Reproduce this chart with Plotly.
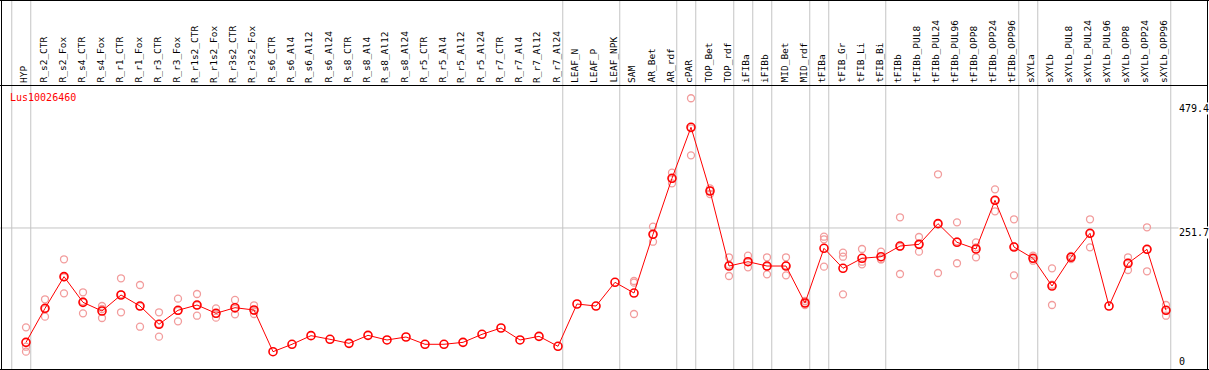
import plotly.graph_objects as go

categories = ["HYP", "R_s2_CTR", "R_s2_Fox", "R_s4_CTR", "R_s4_Fox", "R_r1_CTR", "R_r1_Fox",
              "R_r3_CTR", "R_r3_Fox", "R_r1s2_CTR", "R_r1s2_Fox", "R_r3s2_CTR", "R_r3s2_Fox",
              "R_s6_CTR", "R_s6_Al4", "R_s6_Al12", "R_s6_Al24", "R_s8_CTR", "R_s8_Al4", "R_s8_Al12",
              "R_s8_Al24", "R_r5_CTR", "R_r5_Al4", "R_r5_Al12", "R_r5_Al24", "R_r7_CTR", "R_r7_Al4",
              "R_r7_Al12", "R_r7_Al24", "LEAF_N", "LEAF_P", "LEAF_NPK", "SAM", "AR_Bet", "AR_rdf",
              "cPAR", "TOP_Bet", "TOP_rdf", "iFIBa", "iFIBb", "MID_Bet", "MID_rdf", "tFIBa",
              "tFIB_Gr", "tFIB_Li", "tFIB_Bi", "tFIBb", "tFIBb_PUL8", "tFIBb_PUL24", "tFIBb_PUL96",
              "tFIBb_OPP8", "tFIBb_OPP24", "tFIBb_OPP96", "sXYLa", "sXYLb", "sXYLb_PUL8",
              "sXYLb_PUL24", "sXYLb_PUL96", "sXYLb_OPP8", "sXYLb_OPP24", "sXYLb_OPP96"]

mean_values = [47.6, 108.3, 164.8, 119.0, 103.5, 132.1, 112.4, 79.8, 104.8, 114.2, 99.4, 109.4, 105.3,
               30.9, 44.1, 59.5, 53.0, 45.8, 60.1, 51.8, 57.1, 44.1, 44.1, 47.6, 61.9, 73.2, 51.8,
               58.3, 40.5, 116.0, 112.4, 154.7, 135.6, 240.4, 340.4, 431.4, 317.7, 183.8, 191.5,
               183.8, 183.8, 117.8, 215.4, 179.7, 197.6, 200.4, 219.5, 222.5, 259.4, 226.1, 214.2,
               301.1, 217.7, 197.6, 148.1, 199.4, 242.2, 112.4, 188.7, 213.6, 104.8]

N = None
rep_a = [74.4, 124.4, 195.8, 136.9, 112.4, 161.9, 149.9, 101.2, 125.5, 133.9, 108.3, 123.2, 113.7,
         N, N, N, N, N, N, N, N, N, N, N, N, N, N, N, N, N, N, N,
         157.1, 254.0, 350.4, 483.2, 322.5, 199.4, 202.2, 199.4, 199.4, 121.4, 236.1, 207.6, 214.2,
         209.4, 270.8, 235.6, 347.5, 261.8, 226.1, 320.7, 267.2, 202.2, 179.7, 201.7, 267.2, N,
         199.4, 252.9, 114.2]
rep_b = [30.9, 93.4, 135.1, 99.4, 91.0, 101.2, 75.5, 57.7, 85.1, 95.1, 91.6, 97.6, 98.2,
         N, N, N, N, N, N, N, N, N, N, N, N, N, N, N, N, N, N, N,
         98.2, 227.2, 331.4, 381.4, 312.3, 166.0, 181.5, 169.0, 167.2, 114.2, 182.6, 133.3, 186.9,
         196.3, 169.6, 209.4, 171.3, 188.7, 199.4, 281.5, 167.2, 193.3, 114.2, 196.3, 217.2, N,
         176.7, 174.4, 95.1]
rep_c = [39.8, 107.1, 163.5, 120.7, 107.1, 133.2, 111.8, 80.5, 103.8, 113.6, 98.3, 107.4, 104.0,
         N, N, N, N, N, N, N, N, N, N, N, N, N, N, N, N, N, N, N,
         154.1, 240.0, 339.4, 429.6, 318.3, 186.0, 190.8, 183.0, 184.8, 117.8, 231.5, 200.4, 191.5,
         195.5, 218.0, 222.5, 259.4, 227.8, 217.0, 301.1, 218.7, 197.0, 150.4, 200.0, 242.2, N,
         190.0, 213.5, 105.0]

group_ends = [-1, 0, 28, 31, 34, 35, 37, 38, 39, 41, 42, 45, 52, 53, 60]
y_tick_values = [479.4, 251.7, 0]
y_tick_labels = ["479.4", "251.7", "0"]
gene_name = "Lus10026460"

W, H = 1209, 370
X0_PX, X_STEP = 26.0, 19.0          # pixel of first category, pixel per category
Y0_PX, YTOP_PX = 369.0, 100.4       # pixel of 0 and of max tick
y_scale = y_tick_values[0] / (Y0_PX - YTOP_PX)

x_range = [(0 - X0_PX) / X_STEP, (W - X0_PX) / X_STEP]
y_range = [(Y0_PX - H) * y_scale, (Y0_PX - 0) * y_scale]

def px_x(p):
    return p / W

def px_y(p):
    return (H - p) / H

FONT = "DejaVu Sans Mono"
xs = list(range(len(categories)))

fig = go.Figure()

rep_x, rep_y = [], []
for reps in (rep_a, rep_b, rep_c):
    for i, v in enumerate(reps):
        if v is not None:
            rep_x.append(i)
            rep_y.append(v)

fig.add_trace(go.Scatter(
    x=rep_x, y=rep_y, mode="markers",
    marker=dict(symbol="circle-open", size=7, color="#f29c9c", line=dict(width=1.3, color="#f29c9c")),
    hoverinfo="skip", showlegend=False, cliponaxis=False))

fig.add_trace(go.Scatter(
    x=xs, y=mean_values, mode="lines+markers",
    line=dict(color="#ff0000", width=1),
    marker=dict(symbol="circle-open", size=8, color="#ff0000", line=dict(width=1.6, color="#ff0000")),
    showlegend=False, cliponaxis=False))

shapes = []
grid_col = "#c4c4c4"
for g in group_ends:
    shapes.append(dict(type="line", xref="x", yref="paper", x0=g + 0.25, x1=g + 0.25,
                       y0=0, y1=1, line=dict(color=grid_col, width=1), layer="below"))
shapes.append(dict(type="line", xref="paper", yref="y", x0=0, x1=1,
                   y0=y_tick_values[1], y1=y_tick_values[1],
                   line=dict(color=grid_col, width=1), layer="below"))
# frame
blk = dict(color="#000000", width=1)
shapes.append(dict(type="line", xref="paper", yref="paper", x0=0, x1=px_x(1208),
                   y0=px_y(85.5), y1=px_y(85.5), line=blk))
shapes.append(dict(type="line", xref="paper", yref="paper", x0=px_x(1.5), x1=px_x(1.5),
                   y0=0, y1=1, line=blk))
shapes.append(dict(type="line", xref="paper", yref="paper", x0=px_x(1207.5), x1=px_x(1207.5),
                   y0=0, y1=1, line=blk))
shapes.append(dict(type="line", xref="paper", yref="paper", x0=0, x1=1,
                   y0=px_y(0.5), y1=px_y(0.5), line=blk))
shapes.append(dict(type="line", xref="paper", yref="paper", x0=0, x1=1,
                   y0=px_y(369.5), y1=px_y(369.5), line=blk))

annotations = []
for i, c in enumerate(categories):
    annotations.append(dict(x=i, y=px_y(84), xref="x", yref="paper", text=c, showarrow=False,
                            textangle=-90, xanchor="center", yanchor="bottom", xshift=-2.5,
                            font=dict(family=FONT, size=9.5, color="#000000"), borderpad=0))
annotations.append(dict(x=px_x(9), y=px_y(97.7), xref="paper", yref="paper", text=gene_name,
                        showarrow=False, xanchor="left", yanchor="middle", borderpad=0,
                        font=dict(family=FONT, size=10, color="#ff0000")))
tick_centers_px = [108, 232.5, 361.7]
for lab, cy in zip(y_tick_labels, tick_centers_px):
    annotations.append(dict(x=px_x(1177.5), y=px_y(cy), xref="paper", yref="paper", text=lab,
                            showarrow=False, xanchor="left", yanchor="middle", borderpad=0,
                            bgcolor="#ffffff",
                            font=dict(family=FONT, size=10, color="#000000")))

fig.update_layout(
    width=W, height=H, margin=dict(l=0, r=0, t=0, b=0),
    paper_bgcolor="#ffffff", plot_bgcolor="#ffffff",
    xaxis=dict(range=x_range, visible=False, showgrid=False, zeroline=False),
    yaxis=dict(range=y_range, visible=False, showgrid=False, zeroline=False),
    shapes=shapes, annotations=annotations, showlegend=False,
)

fig.write_html("out.html", config={"displayModeBar": False},
               post_script="document.body.style.margin='0px';document.body.style.padding='0px';")
